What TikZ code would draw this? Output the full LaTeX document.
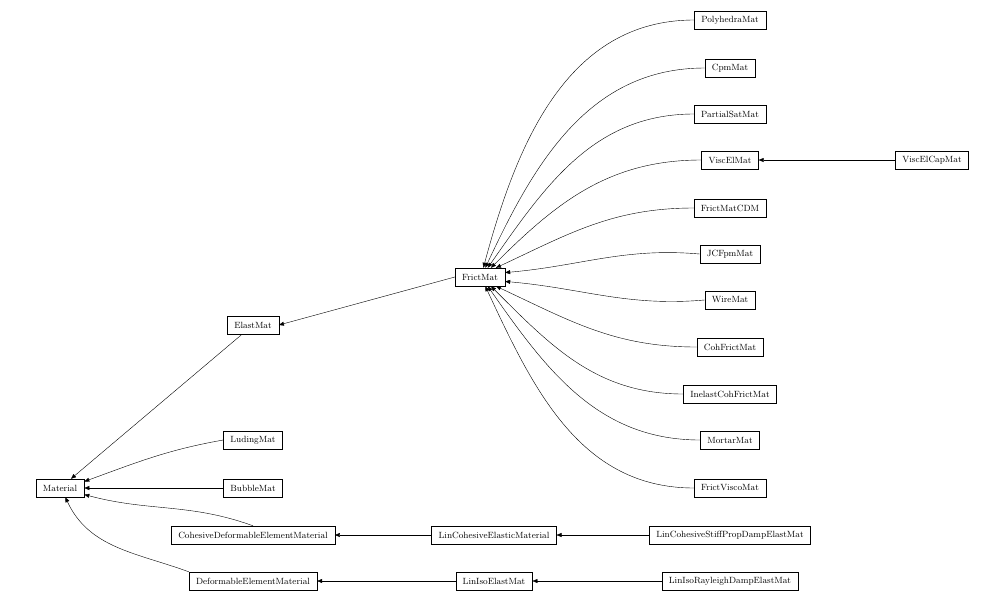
\documentclass[tikz,border=0pt]{standalone}
\usepackage{tikz}
\usetikzlibrary{arrows.meta}

\begin{document}
\begin{tikzpicture}[x=1pt, y=-1pt, semithick,
    cls/.style={draw, thin, rectangle, minimum height=18pt, inner xsep=7pt, inner ysep=2pt, font=\fontsize{9}{10}\selectfont},
    inh/.style={->, thin, >={Triangle[length=5pt,width=4pt]}}]
  \useasboundingbox (0,0) rectangle (1006,603);
  % right column, children of FrictMat
  \node[cls] (Poly)  at (730,20)  {PolyhedraMat};
  \node[cls] (Cpm)   at (730,68)  {CpmMat};
  \node[cls] (PSat)  at (730,114) {PartialSatMat};
  \node[cls] (Visc)  at (730,160) {ViscElMat};
  \node[cls] (VCap)  at (932,160) {ViscElCapMat};
  \node[cls] (CDM)   at (730,208) {FrictMatCDM};
  \node[cls] (JCF)   at (730,254) {JCFpmMat};
  \node[cls] (Wire)  at (730,300) {WireMat};
  \node[cls] (Coh)   at (730,347) {CohFrictMat};
  \node[cls] (Inel)  at (730,394) {InelastCohFrictMat};
  \node[cls] (Mort)  at (730,440) {MortarMat};
  \node[cls] (FVis)  at (730,488) {FrictViscoMat};
  % middle
  \node[cls] (Frict) at (480,277) {FrictMat};
  \node[cls] (Elast) at (253,325) {ElastMat};
  \node[cls] (Lud)   at (253,440) {LudingMat};
  \node[cls] (Bub)   at (253,488) {BubbleMat};
  \node[cls] (Mat)   at (60,488)  {Material};
  \node[cls] (CDEM)  at (253,535) {CohesiveDeformableElementMaterial};
  \node[cls] (LCEM)  at (494,535) {LinCohesiveElasticMaterial};
  \node[cls] (LCSP)  at (730,535) {LinCohesiveStiffPropDampElastMat};
  \node[cls] (DEM)   at (253,581) {DeformableElementMaterial};
  \node[cls] (LIE)   at (494,581) {LinIsoElastMat};
  \node[cls] (LIR)   at (730,581) {LinIsoRayleighDampElastMat};

  \draw[inh] (Poly.west) to[out=180, in=75]  (Frict.70);
  \draw[inh] (Cpm.west)  to[out=180, in=65]  (Frict.60);
  \draw[inh] (PSat.west) to[out=180, in=55]  (Frict.50);
  \draw[inh] (Visc.west) to[out=180, in=45]  (Frict.40);
  \draw[inh] (CDM.west)  to[out=180, in=25]  (Frict.30);
  \draw[inh] (JCF.west)  to[out=175, in=5]   (Frict.10);
  \draw[inh] (Wire.west) to[out=185, in=-5]  (Frict.-10);
  \draw[inh] (Coh.west)  to[out=180, in=-25] (Frict.-30);
  \draw[inh] (Inel.west) to[out=180, in=-45] (Frict.-40);
  \draw[inh] (Mort.west) to[out=180, in=-55] (Frict.-50);
  \draw[inh] (FVis.west) to[out=180, in=-65] (Frict.-60);
  \draw[inh] (VCap) -- (Visc);
  \draw[inh] (Frict.west) -- (Elast.east);
  \draw[inh] (Elast) -- (Mat.40);
  \draw[inh] (Lud.west) to[out=190, in=20] (Mat.15);
  \draw[inh] (Bub) -- (Mat);
  \draw[inh] (CDEM.north) to[out=160, in=-15] (Mat.-15);
  \draw[inh] (DEM.north west) to[out=160, in=-65] (Mat.-60);
  \draw[inh] (LCEM) -- (CDEM);
  \draw[inh] (LCSP) -- (LCEM);
  \draw[inh] (LIE) -- (DEM);
  \draw[inh] (LIR) -- (LIE);
\end{tikzpicture}
\end{document}
